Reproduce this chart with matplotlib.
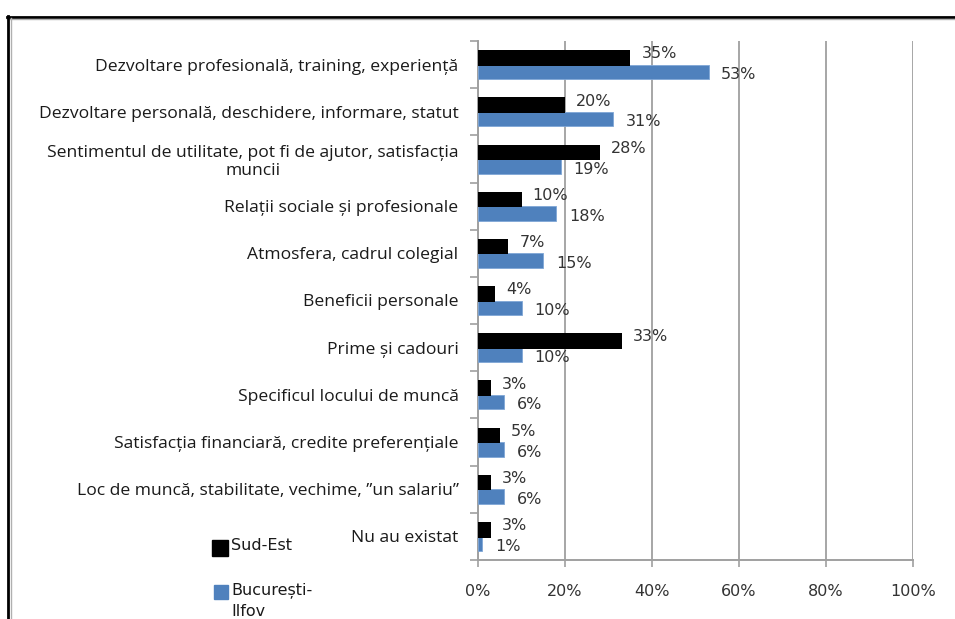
import matplotlib
matplotlib.use("Agg")
import matplotlib.pyplot as plt
from matplotlib.lines import Line2D
from matplotlib.patches import Rectangle
import numpy as np

categories = [
    "Dezvoltare profesională, training, experiență",
    "Dezvoltare personală, deschidere, informare, statut",
    "Sentimentul de utilitate, pot fi de ajutor, satisfacția\nmuncii",
    "Relații sociale și profesionale",
    "Atmosfera, cadrul colegial",
    "Beneficii personale",
    "Prime și cadouri",
    "Specificul locului de muncă",
    "Satisfacția financiară, credite preferențiale",
    "Loc de muncă, stabilitate, vechime, ”un salariu”",
    "Nu au existat",
]
sud_est = [35, 20, 28, 10, 7, 4, 33, 3, 5, 3, 3]
bucuresti = [53, 31, 19, 18, 15, 10, 10, 6, 6, 6, 1]
series_names = ["Sud-Est", "București-\nIlfov"]
xticks = [0, 20, 40, 60, 80, 100]

W, H, DPI = 955, 619, 100
fig = plt.figure(figsize=(W / DPI, H / DPI), dpi=DPI)
fig.patch.set_facecolor("white")

L, R, T, B = 478, 913, 41, 560
ax = fig.add_axes([L / W, 1 - B / H, (R - L) / W, (B - T) / H])

y = np.arange(len(categories))
black = "#000000"
blue = "#4F81BD"
b1 = ax.barh(y - 0.14, sud_est, height=0.33, color=black, zorder=4, label=series_names[0])
b2 = ax.barh(y + 0.155, bucuresti, height=0.31, color=blue, edgecolor="#7FA6D6",
             linewidth=0.6, zorder=3, label=series_names[1])

ax.set_xlim(0, 100)
ax.set_ylim(len(categories) - 0.5, -0.5)
ax.set_xticks(xticks)
ax.set_xticklabels([f"{v}%" for v in xticks], fontsize=11.5, color="#333333",
                   family="DejaVu Sans")
ax.tick_params(axis="x", direction="out", length=5, width=1.2, color="#A0A0A0", pad=12)
ax.set_yticks(y)
ax.set_yticklabels(categories, fontsize=12.6, family=["Open Sans", "DejaVu Sans"],
                   color="#1a1a1a", multialignment="center", linespacing=1.15)
ax.set_yticks(np.arange(len(categories) + 1) - 0.5, minor=True)
ax.tick_params(axis="y", which="major", length=0, pad=14)
ax.tick_params(axis="y", which="minor", direction="out", length=6, width=1.2, color="#A0A0A0")

ax.grid(axis="x", color="#A6A6A6", linewidth=1.4, zorder=0)
ax.set_axisbelow(True)
for s in ["top", "right"]:
    ax.spines[s].set_visible(False)
for s in ["left", "bottom"]:
    ax.spines[s].set_color("#A0A0A0")
    ax.spines[s].set_linewidth(1.4)

for yi, v in zip(y, sud_est):
    ax.annotate(f"{v}%", (v, yi - 0.14), xytext=(8, 3), textcoords="offset points",
                ha="left", va="center", fontsize=11.5, color="#333333", family="DejaVu Sans")
for yi, v in zip(y, bucuresti):
    ax.annotate(f"{v}%", (v, yi + 0.155), xytext=(9, -2), textcoords="offset points",
                ha="left", va="center", fontsize=11.5, color="#333333", family="DejaVu Sans")

# legend (keys drawn in series colours, label placed beside the key's top line)
leg_font = {"family": "DejaVu Sans", "size": 11.5}
for (ky, kcol, ksz), name in zip([(548, black, 16), (592, blue, 14)], series_names):
    fig.add_artist(Rectangle(((228 - ksz) / W, 1 - (ky + ksz / 2) / H), ksz / W, ksz / H,
                             transform=fig.transFigure, color=kcol))
    fig.text(231 / W, 1 - (ky - 10) / H, name, ha="left", va="top", color="#1a1a1a",
             linespacing=1.55, **leg_font)

# outer frame (clipped on right/bottom)
fig.add_artist(Line2D([7 / W, 1.0], [1 - 16.5 / H] * 2, color="black", linewidth=2.0,
                      transform=fig.transFigure))
fig.add_artist(Line2D([7 / W, 1.0], [1 - 19 / H] * 2, color="#B0B0B0", linewidth=1.0,
                      transform=fig.transFigure))
fig.add_artist(Line2D([8 / W] * 2, [0, 1 - 16 / H], color="black", linewidth=2.0,
                      transform=fig.transFigure))
fig.add_artist(Line2D([10.5 / W] * 2, [0, 1 - 18 / H], color="#B0B0B0", linewidth=1.0,
                      transform=fig.transFigure))

fig.savefig("out.png", dpi=DPI)
